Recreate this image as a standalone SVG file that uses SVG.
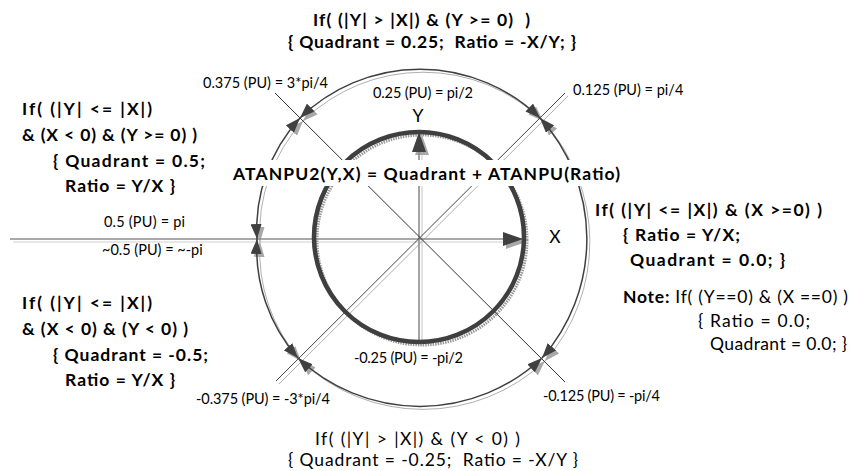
<svg xmlns="http://www.w3.org/2000/svg" width="858" height="471" viewBox="0 0 858 471">
<style>
.b{font-family:Lato,"Liberation Sans",sans-serif;font-weight:bold;font-size:17.5px;fill:#000}
.n{font-family:Lato,"Liberation Sans",sans-serif;font-size:17.5px;fill:#000}
.s{font-family:Lato,"Liberation Sans",sans-serif;font-size:14.5px;fill:#000}
.dk{fill:none;stroke:#404040;stroke-width:1.5}
.sh{fill:none;stroke:#b0b0b0;stroke-width:1}
.ax{fill:none;stroke:#8c8c8c;stroke-width:1.6}
.axs{fill:none;stroke:#cfcfcf;stroke-width:1.2}
</style>
<defs>
<marker id="a" viewBox="0 0 15 11" markerWidth="15" markerHeight="11" refX="15" refY="5.5" orient="auto-start-reverse" markerUnits="userSpaceOnUse"><path d="M0,0 L15,5.5 L0,11 z" fill="#404040"/></marker>
<marker id="as" viewBox="0 0 15 11" markerWidth="15" markerHeight="11" refX="15" refY="5.5" orient="auto-start-reverse" markerUnits="userSpaceOnUse"><path d="M0,0 L15,5.5 L0,11 z" fill="#a8a8a8"/></marker>
<marker id="A" viewBox="0 0 20 14" markerWidth="20" markerHeight="14" refX="20" refY="7" orient="auto" markerUnits="userSpaceOnUse"><path d="M0,0 L20,7 L0,14 z" fill="#404040"/></marker>
<marker id="As" viewBox="0 0 20 14" markerWidth="20" markerHeight="14" refX="20" refY="7" orient="auto" markerUnits="userSpaceOnUse"><path d="M0,0 L20,7 L0,14 z" fill="#a8a8a8"/></marker>
</defs>
<rect width="858" height="471" fill="#fff"/>

<g id="shadows" transform="translate(3,3)">
<path class="axs" d="M10,239 H523" marker-end="url(#As)"/>
<path class="axs" d="M419,343 V132" marker-end="url(#As)"/>
<path class="sh" d="M565,93 L276,381"/>
<circle cx="419" cy="237" r="105" fill="none" stroke="#9a9a9a" stroke-width="3" stroke-dasharray="1.5 1"/>
<g class="sh" marker-start="url(#as)" marker-end="url(#as)">
<path d="M300,118 A172,172 0 0 1 540,118"/>
<path d="M540,118 A180,180 0 0 1 542,358"/>
<path d="M542,358 A178,178 0 0 1 298,358"/>
<path d="M298,358 A165,165 0 0 1 257,239"/>
<path d="M257,239 A165,165 0 0 1 300,118"/>
</g>
</g>

<g id="axes">
<path class="ax" d="M10,239 H523" marker-end="url(#A)"/>
<path class="ax" d="M419,343 V132" marker-end="url(#A)"/>
<path d="M275,93 L565,382" stroke="#333" stroke-width="1" fill="none"/>
<path d="M565,93 L276,381" stroke="#444" stroke-width="1" fill="none"/>
</g>
<g id="unit-circle">
<circle cx="419" cy="237" r="105" fill="none" stroke="#3f3f3f" stroke-width="4.5"/>
</g>
<g id="connectors" class="dk" marker-start="url(#a)" marker-end="url(#a)">
<path d="M300,118 A172,172 0 0 1 540,118"/>
<path d="M540,118 A180,180 0 0 1 542,358"/>
<path d="M542,358 A178,178 0 0 1 298,358"/>
<path d="M298,358 A165,165 0 0 1 257,239"/>
<path d="M257,239 A165,165 0 0 1 300,118"/>
</g>

<g id="formula">
<rect x="230" y="160" width="394" height="26" fill="#fff"/>
<text class="b" x="233" y="180" textLength="387">ATANPU2(Y,X) = Quadrant + ATANPU(Ratio)</text>
</g>

<g id="labels">
<text class="s" x="203" y="88" textLength="125">0.375 (PU) = 3*pi/4</text>
<text class="s" x="373" y="98" textLength="100">0.25 (PU) = pi/2</text>
<text class="s" x="573" y="95">0.125 (PU) = pi/4</text>
<text class="s" x="104" y="227" textLength="81">0.5 (PU) = pi</text>
<text class="s" x="102" y="255">~0.5 (PU) = ~-pi</text>
<text class="s" x="354" y="363" textLength="109">-0.25 (PU) = -pi/2</text>
<text class="s" x="196" y="404" textLength="134">-0.375 (PU) = -3*pi/4</text>
<text class="s" x="543" y="401" textLength="117">-0.125 (PU) = -pi/4</text>
<text class="n" x="418" y="122" text-anchor="middle">Y</text>
<text class="n" x="555" y="243" text-anchor="middle">X</text>
</g>

<g id="top-case">
<text class="b" x="313" y="26" textLength="217" xml:space="preserve">If( (|Y| &gt; |X|) &amp; (Y &gt;= 0)  )</text>
<text class="b" x="288" y="48" textLength="288" xml:space="preserve">{ Quadrant = 0.25;  Ratio = -X/Y; }</text>
</g>
<g id="left-upper-case">
<text class="b" x="22" y="115" textLength="130">If( (|Y| &lt;= |X|)</text>
<text class="b" x="22" y="141" textLength="175">&amp; (X &lt; 0) &amp; (Y &gt;= 0) )</text>
<text class="b" x="53" y="167" textLength="152">{ Quadrant = 0.5;</text>
<text class="b" x="65" y="192" textLength="110">Ratio = Y/X }</text>
</g>
<g id="left-lower-case">
<text class="b" x="22" y="309" textLength="130">If( (|Y| &lt;= |X|)</text>
<text class="b" x="22" y="335" textLength="166">&amp; (X &lt; 0) &amp; (Y &lt; 0) )</text>
<text class="b" x="53" y="361" textLength="155">{ Quadrant = -0.5;</text>
<text class="b" x="65" y="386" textLength="110">Ratio = Y/X }</text>
</g>
<g id="right-case">
<text class="b" x="595" y="216" textLength="227">If( (|Y| &lt;= |X|) &amp; (X &gt;=0) )</text>
<text class="b" x="623" y="241" textLength="117">{ Ratio = Y/X;</text>
<text class="b" x="630" y="266" textLength="155">Quadrant = 0.0; }</text>
</g>
<g id="note">
<text class="n" x="623" y="303" textLength="225"><tspan font-weight="bold">Note:</tspan> If( (Y==0) &amp; (X ==0) )</text>
<text class="n" x="698" y="327" textLength="112">{ Ratio = 0.0;</text>
<text class="n" x="710" y="350" textLength="137">Quadrant = 0.0; }</text>
</g>
<g id="bottom-case">
<text class="n" x="315" y="445" textLength="205">If( (|Y| &gt; |X|) &amp; (Y &lt; 0) )</text>
<text class="n" x="288" y="466" textLength="290" xml:space="preserve">{ Quadrant = -0.25;  Ratio = -X/Y }</text>
</g>
</svg>
